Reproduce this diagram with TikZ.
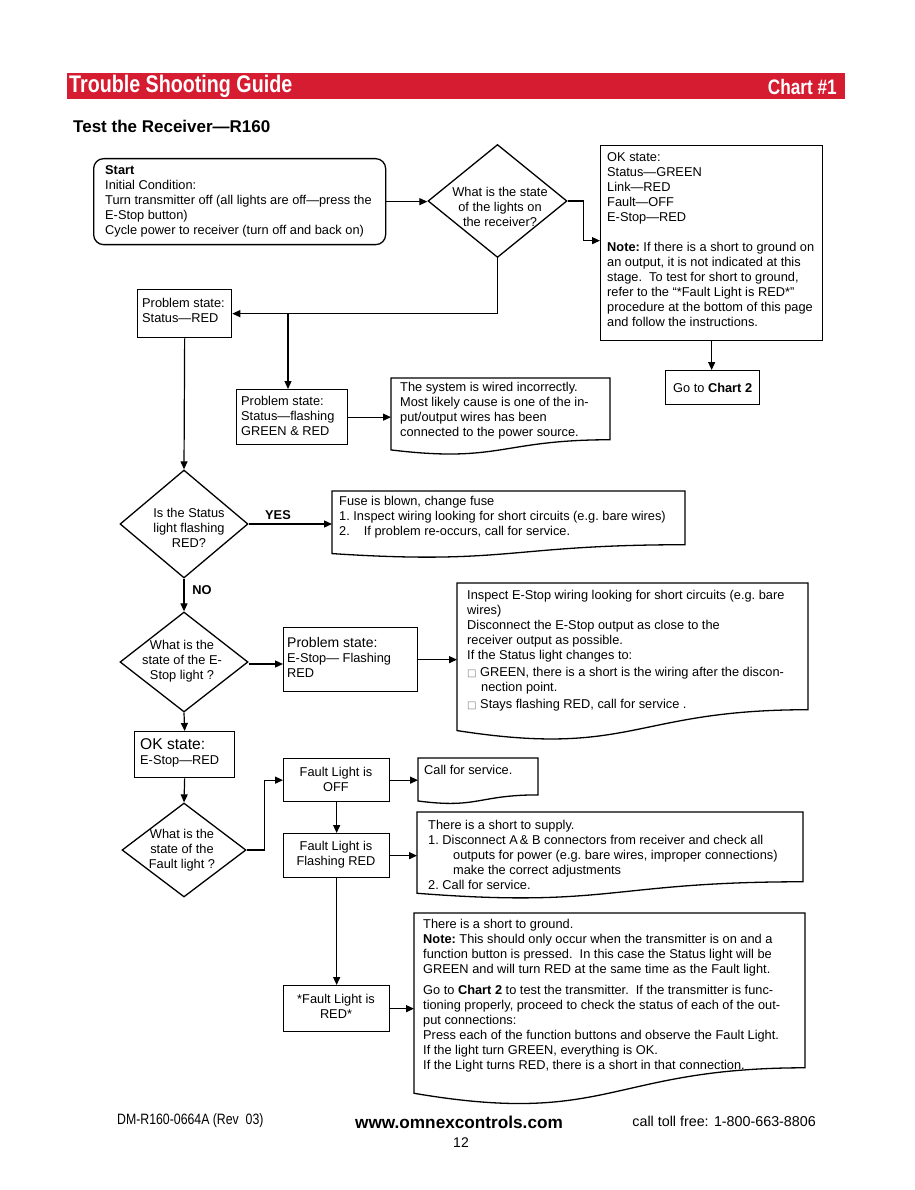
\documentclass[tikz,border=0pt]{standalone}
\usepackage{fontspec}
\setmainfont{Liberation Sans}
\newfontfamily\narrowfont[FakeStretch=0.82]{Liberation Sans}
\newfontfamily\symf{DejaVu Sans}
\usetikzlibrary{shapes.geometric,arrows.meta,calc}
\definecolor{hdrred}{RGB}{214,28,48}
\newcommand\bodyfont{\fontsize{12.8}{15}\selectfont\frenchspacing}
\newcommand\docout[1]{\draw[line width=1.3pt] (#1.north west) -- (#1.north east) -- ($(#1.north east)!0.802!(#1.south east)$) .. controls ($(#1.north)!0.802!(#1.south)$) and ($(#1.north)!1.107!(#1.south)$) .. ($(#1.north west)!0.934!(#1.south west)$) -- cycle;}
\newcommand\bul{{\symf\color{gray}\fontsize{10}{10}\selectfont □}}
\tikzset{
  box/.style={draw, line width=1.3pt, inner sep=0, anchor=north west},
  txt/.style={inner sep=0, align=left, font=\bodyfont, anchor=west},
  ctxt/.style={inner sep=0, align=center, font=\bodyfont},
  dia/.style={draw, diamond, line width=1.3pt, inner sep=0},
  doc/.style={inner sep=0, outer sep=0, anchor=north west},
  arr/.style={line width=1.2pt, -{Triangle[length=8pt,width=7pt]}},
  lbl/.style={inner sep=0, font=\bodyfont\bfseries},
}
\begin{document}
\begin{tikzpicture}[x=1pt,y=-1pt]
\fill[white] (0,0) rectangle (914,1190);
\useasboundingbox (0,0) rectangle (914,1190);

% header
\node[fill=hdrred, minimum width=778, minimum height=26, anchor=north west, inner sep=0] (bar) at (67,73) {};
\node[anchor=west, text=white, inner sep=0, font=\narrowfont\bfseries\fontsize{24}{24}\selectfont] (title) at (69,86) {Trouble Shooting Guide};
\node[anchor=east, text=white, inner sep=0, font=\narrowfont\bfseries\fontsize{21}{21}\selectfont] (chart) at (837,87) {Chart \#1};
\node[anchor=west, inner sep=0, font=\bfseries\fontsize{17}{17}\selectfont] (sub) at (73,126) {Test the Receiver—R160};

% start
\node[box, minimum width=292, minimum height=86, rounded corners=10] (start) at (93,158) {};
\node[txt] (startt) at (105,201) {\textbf{Start}\\Initial Condition:\\Turn transmitter off (all lights are off—press the\\E-Stop button)\\Cycle power to receiver (turn off and back on)};

% diamond 1
\node[dia, minimum width=139, minimum height=113] (d1) at (497.5,201) {};
\node[ctxt] (d1t) at (500,207) {What is the state\\of the lights on\\the receiver?};

% OK box
\node[box, minimum width=222, minimum height=195] (ok) at (600,145) {};
\node[txt] (okt) at (607,239.5) {OK state:\\Status—GREEN\\Link—RED\\Fault—OFF\\E-Stop—RED\\[15pt]\textbf{Note:} If there is a short to ground on\\an output, it is not indicated at this\\stage.\ \ To test for short to ground,\\refer to the “*Fault Light is RED*”\\procedure at the bottom of this page\\and follow the instructions.};

\node[box, minimum width=94, minimum height=34] (go) at (665,370) {};
\node[ctxt] (got) at (go.center) {Go to \textbf{Chart 2}};

% problem status red
\node[box, minimum width=94, minimum height=48] (p1) at (137,289) {};
\node[txt] (p1t) at (142,310) {Problem state:\\Status—RED};

% problem flashing
\node[box, minimum width=111, minimum height=55] (p2) at (236,389) {};
\node[txt] (p2t) at (241,416) {Problem state:\\Status—flashing\\GREEN \& RED};

% wired doc
\node[doc, minimum width=219, minimum height=77] (wired) at (391,378) {};
\docout{wired}
\node[txt] (wiredt) at (400,410.5) {The system is wired incorrectly.\\Most likely cause is one of the in-\\put/output wires has been\\connected to the power source.};

% diamond 2
\node[dia, minimum width=128, minimum height=108] (d2) at (184,524) {};
\node[ctxt] (d2t) at (189,528) {Is the Status\\light flashing\\RED?};
\node[lbl] (yes) at (278,515) {YES};
\node[lbl] (no) at (202,590) {NO};

% fuse doc
\node[doc, minimum width=353, minimum height=67] (fuse) at (332,491) {};
\docout{fuse}
\node[txt] (fuset) at (339,517.5) {Fuse is blown, change fuse\\1. Inspect wiring looking for short circuits (e.g. bare wires)\\2.\hspace{14pt}If problem re-occurs, call for service.};

% diamond 3
\node[dia, minimum width=128, minimum height=100] (d3) at (184,662) {};
\node[ctxt] (d3t) at (182,661) {What is the\\state of the E-\\Stop light ?};

% estop problem
\node[box, minimum width=134, minimum height=64] (p3) at (283,627) {};
\node[txt] (p3t) at (287,657) {{\fontsize{14}{15}\selectfont Problem state:}\\E-Stop— Flashing\\RED};

% estop doc
\node[doc, minimum width=351, minimum height=158] (edoc) at (457,583) {};
\docout{edoc}
\node[txt] (edoct) at (467,651) {Inspect E-Stop wiring looking for short circuits (e.g. bare\\wires)\\Disconnect the E-Stop output as close to the\\receiver output as possible.\\If the Status light changes to:\\[2pt]\bul\ GREEN, there is a short is the wiring after the discon-\\\hspace*{14pt}nection point.\\[2pt]\bul\ Stays flashing RED, call for service .};

% OK state E-Stop
\node[box, minimum width=100, minimum height=46] (oks) at (134,731) {};
\node[txt] (okst) at (140,753) {{\fontsize{15.6}{16}\selectfont OK state:}\\E-Stop—RED};

% diamond 4
\node[dia, minimum width=124, minimum height=94] (d4) at (184,850) {};
\node[ctxt] (d4t) at (182,850) {What is the\\state of the\\Fault light ?};

% fault boxes
\node[box, minimum width=106, minimum height=43] (foff) at (283,758) {};
\node[ctxt] (fofft) at (336,779) {Fault Light is\\OFF};
\node[box, minimum width=106, minimum height=44] (ffl) at (283,833) {};
\node[ctxt] (fflt) at (336,855) {Fault Light is\\Flashing RED};
\node[box, minimum width=106, minimum height=46] (fred) at (283,985) {};
\node[ctxt] (fredt) at (336,1006) {*Fault Light is\\RED*};

% call doc
\node[doc, minimum width=120, minimum height=46] (call) at (418,758) {};
\docout{call}
\node[txt] (callt) at (424,770) {Call for service.};

% supply doc
\node[doc, minimum width=386, minimum height=87] (sup) at (417,812) {};
\docout{sup}
\node[txt] (supt) at (428,854.5) {There is a short to supply.\\1. Disconnect A\,\&~B connectors from receiver and check all\\\hspace*{25pt}outputs for power (e.g. bare wires, improper connections)\\\hspace*{25pt}make the correct adjustments\\2. Call for service.};

% ground doc
\node[doc, minimum width=391, minimum height=193] (gnd) at (414,913) {};
\docout{gnd}
\node[txt] (gndt) at (423,996) {There is a short to ground.\\\textbf{Note:} This should only occur when the transmitter is on and a\\function button is pressed.\ \ In this case the Status light will be\\GREEN and will turn RED at the same time as the Fault light.\\[6pt]Go to \textbf{Chart 2} to test the transmitter.\ \ If the transmitter is func-\\tioning properly, proceed to check the status of each of the out-\\put connections:\\Press each of the function buttons and observe the Fault Light.\\If the light turn GREEN, everything is OK.\\If the Light turns RED, there is a short in that connection.};

% connectors
\draw[arr] (start.east) -- (start.east -| d1.west);
\draw[arr] (d1.east) -- ++(16,0) |- ([yshift=2.5]ok.west);
\draw[arr] (ok.south) -- (ok.south |- go.north);
\draw[arr] (d1.south) |- (p1.east);
\coordinate (br) at (288,313);
\draw[arr] (br) -- (br |- p2.north);
\draw[arr] (p2.east) -- (p2.east -| wired.west);
\draw[arr] (p1.south) -- (d2.north);
\draw[arr] (d2.east) -- (d2.east -| fuse.west);
\draw[arr] (d2.south) -- (d3.north);
\draw[arr] ([yshift=-2]d3.east) -- ([yshift=-2]d3.east -| p3.west);
\draw[arr] (p3.east) -- (p3.east -| edoc.west);
\draw[arr] (d3.south) -- (oks.north);
\draw[arr] (oks.south) -- (d4.north);
\draw[arr] (d4.east) -- ++(18,0) |- (foff.west);
\draw[arr] (foff.east) -- (foff.east -| call.west);
\draw[arr] (foff.south) -- (ffl.north);
\draw[arr] (ffl.east) -- (ffl.east -| sup.west);
\draw[arr] (ffl.south) -- (fred.north);
\draw[arr] (fred.east) -- (fred.east -| gnd.west);

% footer
\node[anchor=west, inner sep=0, font=\narrowfont\fontsize{15}{15}\selectfont] (dm) at (117,1121) {DM-R160-0664A (Rev\ \ 03)};
\node[inner sep=0, font=\bfseries\fontsize{17.2}{17.2}\selectfont] (www) at (459,1122) {www.omnexcontrols.com};
\node[inner sep=0, font=\fontsize{14}{14}\selectfont] (pg) at (461,1143) {12};
\node[anchor=east, inner sep=0, font=\fontsize{14.3}{14.3}\selectfont] (toll) at (816,1121) {call toll free: 1-800-663-8806};
\end{tikzpicture}
\end{document}
